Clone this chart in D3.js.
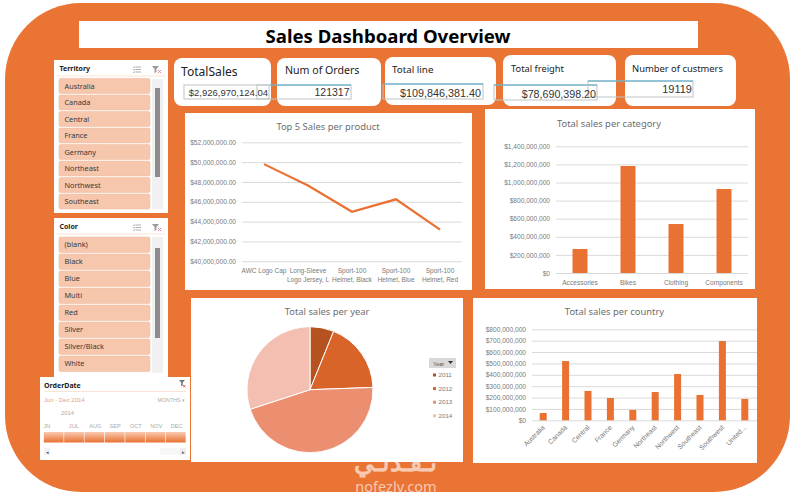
<!DOCTYPE html>
<html><head><meta charset="utf-8">
<script src="https://cdn.jsdelivr.net/npm/d3@7/dist/d3.min.js"></script>
<style>
html,body{margin:0;padding:0;background:#fff}
svg{display:block}
text{font-family:"Liberation Sans",Arial,sans-serif}
.t{font-family:"Noto Sans",sans-serif}
.domain{display:none}
</style></head><body>
<svg id="c" width="792" height="497"></svg>
<script>
const territories=["Australia","Canada","Central","France","Germany","Northeast","Northwest","Southeast"];
const colors=["(blank)","Black","Blue","Multi","Red","Silver","Silver/Black","White"];
const months=["JUN","JUL","AUG","SEP","OCT","NOV","DEC"];
const productLabels=[["AWC Logo Cap"],["Long-Sleeve","Logo Jersey, L"],["Sport-100","Helmet, Black"],["Sport-100","Helmet, Blue"],["Sport-100","Helmet, Red"]];
const productSales=[49800000,47650000,45000000,46250000,43200000];
const categoryNames=["Accessories","Bikes","Clothing","Components"];
const categorySales=[265000000,1182000000,541000000,928000000];
const years=["2011","2012","2013","2014"];
const yearSales=[179000000,536000000,1333000000,879000000];
const countryNames=["Australia","Canada","Central","France","Germany","Northeast","Northwest","Southeast","Southwest","United..."];
const countrySales=[64000000,521000000,258000000,196000000,91000000,249000000,407000000,223000000,697000000,188000000];
const kpiTitles=["TotalSales","Num of Orders","Total line","Total freight","Number of custmers"];
const kpiValues=["$2,926,970,124.04","121317","$109,846,381.40","$78,690,398.20","19119"];

const ORANGE="#E97132",GRID="#d9d9d9",TXT="#7a7a7a";
const svg=d3.select("#c");
svg.append("rect").attr("x",5).attr("y",3).attr("width",785).attr("height",489).attr("rx",76).attr("ry",76).attr("fill","#EA7434");

function rect(g,x,y,w,h,f,extra={}){const r=g.append("rect").attr("x",x).attr("y",y).attr("width",w).attr("height",h).attr("fill",f);
  for(const k in extra)r.attr(k,extra[k]);return r;}
function text(g,x,y,s,size,fill,extra={}){const t=g.append("text").attr("x",x).attr("y",y).attr("font-size",size).attr("fill",fill).text(s);
  for(const k in extra)t.attr(k,extra[k]);return t;}

// title band
rect(svg,79,21,619,27,"#fff");
text(svg,388,43,"Sales Dashboard Overview",18.6,"#000",{"text-anchor":"middle","font-weight":700,"class":"t"});

// KPI cards
const cards=[[174,58,97,48],[277,58,104,48],[385,57,111,48],[503,55,113,51],[625,55,111,51]];
const titlePos=[[181,76,12.1],[285,74,10.6],[392,73,9.8],[511,72,9.3],[632,72,9.4]];
const boxes=[[184,85,85,14],[257,85,94,14],[383,84,100,15],[494,85,103,15],[588,81,105,16]];
const valuePos=[[268,96,9.5],[349.5,96,10.5],[481,97,10.8],[596,98,10.7],[692,93,11]];
cards.forEach((c,i)=>rect(svg,c[0],c[1],c[2],c[3],"#fff",{rx:8}));
kpiTitles.forEach((s,i)=>text(svg,titlePos[i][0],titlePos[i][1],s,titlePos[i][2],"#222",{"class":"t"}));
boxes.forEach((b,i)=>{
  rect(svg,b[0],b[1],b[2],b[3],"none",{stroke:"#bfc4c4","stroke-width":1});
  if(i>0)svg.append("line").attr("x1",i==1?270:b[0]).attr("x2",b[0]+b[2]).attr("y1",b[1]).attr("y2",b[1]).attr("stroke","#4aa8c8").attr("stroke-width",1);
});
kpiValues.forEach((s,i)=>text(svg,valuePos[i][0],valuePos[i][1],s,valuePos[i][2],"#333",{"text-anchor":"end"}));

// slicers
function filterIcons(g,x,y){
  const ic=g.append("g").attr("stroke","#9a9a9a").attr("stroke-width",.8).attr("fill","none");
  [0,2.5,5].forEach(d=>ic.append("line").attr("x1",x+2.5).attr("x2",x+8).attr("y1",y+d).attr("y2",y+d));
  [0,2.5,5].forEach(d=>ic.append("path").attr("d",`M${x} ${y+d}l.8 .8l1 -1.4`));
  g.append("path").attr("d",`M${x+19} ${y-1}h7l-2.6 3v3l-1.8 1v-4z`).attr("fill","#9a9a9a");
  g.append("path").attr("d",`M${x+25} ${y+3}l3 3m0 -3l-3 3`).attr("stroke","#d88","stroke-width",.7);
}
function slicer(x,y,w,h,title,items,itemTop,itemH,pitch,thumbTop,thumbBot){
  const g=svg.append("g");
  rect(g,x,y,w,h,"#fff");
  text(g,x+5.5,y+11,title,7,"#222",{"font-weight":700,"class":"t"});
  filterIcons(g,x+79,y+7);
  rect(g,x+3,y+15.5,w-6,1,"#fbe3d6");
  items.forEach((s,i)=>{
    const yy=itemTop+i*pitch;
    rect(g,x+5,yy,91,itemH,"#F6C6AD",{rx:1.5,stroke:"#eeb89c","stroke-width":.5});
    text(g,x+10.5,yy+itemH/2+2.6,s,7.3,"#3a3a3a",{"class":"t"});
  });
  rect(g,x+98,y+19,11,h-23,"#f1f1f1");
  rect(g,x+101,thumbTop,5,thumbBot-thumbTop,"#8c8c8c");
}
slicer(54,60,114,153,"Territory",territories,78.5,15,16.5,88,177);
slicer(54,218,114,159,"Color",colors,237,15.5,17,248,338);

// timeline
const tl=svg.append("g");
rect(tl,40,377,150,83,"#fff");
text(tl,44,387.5,"OrderDate",7,"#222",{"font-weight":700,"class":"t"});
tl.append("path").attr("d","M179 380h6l-2.2 2.6v3l-1.6 .9v-3.9z").attr("fill","#777");
tl.append("path").attr("d","M183 385l2.5 2.5m0 -2.5l-2.5 2.5").attr("stroke","#d44").attr("stroke-width",.8);
rect(tl,44,391,142,1,"#fbe3d6");
text(tl,44,402,"Jun - Dec 2014",6,"#e8a07a");
text(tl,185,402,"MONTHS ▾",5.3,"#aaa",{"text-anchor":"end"});
text(tl,61,415,"2014",5.8,"#aaa");
const mx=d3.scaleBand().domain(months).range([43.5,186]);
const grad=svg.append("defs").append("linearGradient").attr("id","tg").attr("x1",0).attr("x2",0).attr("y1",0).attr("y2",1);
grad.append("stop").attr("offset",0).attr("stop-color","#f9c9b0");
grad.append("stop").attr("offset",1).attr("stop-color","#E97132");
months.forEach((m,i)=>{
  rect(tl,mx(m)+.3,432,mx.bandwidth()-.6,10.5,"url(#tg)");
  text(tl,mx(m)+(i==0?0:5),428,i==0?"JN":m,5.6,"#aaa");
});
rect(tl,44,448,6,7,"#f0f0f0"); text(tl,45.5,453.5,"◂",5,"#555");
rect(tl,160,448,26,7,"#f7f7f7"); rect(tl,180,448,6,7,"#eee"); text(tl,181.5,453.5,"▸",5,"#555");

// chart panels
function panel(x,y,w,h,title,cx,ty){
  rect(svg,x,y,w,h,"#fff");
  text(svg,cx,ty,title,9.4,"#6e6e6e",{"text-anchor":"middle","class":"t"});
}
function yAxis(scale,vals,fmt,x0,x1,size){
  const ax=svg.append("g").attr("transform",`translate(${x0},0)`)
    .call(d3.axisLeft(scale).tickValues(vals).tickFormat(fmt).tickSize(-(x1-x0)).tickPadding(6));
  ax.selectAll("line").attr("stroke",GRID);
  ax.selectAll("text").attr("fill",TXT).attr("font-size",size);
}
const fmt2=d=>"$"+d3.format(",.2f")(d), fmt0=d=>"$"+d3.format(",")(d);

// line chart
panel(185,113,287,177,"Top 5 Sales per product",328,130);
const lx=d3.scaleBand().domain(d3.range(5)).range([242,462]);
const ly=d3.scaleLinear().domain([40000000,52000000]).range([261.3,142.3]);
yAxis(ly,d3.range(40000000,52000001,2000000),fmt2,242,462,6.6);
svg.append("path").datum(productSales).attr("fill","none").attr("stroke",ORANGE).attr("stroke-width",2.2)
  .attr("d",d3.line().x((d,i)=>lx(i)+lx.bandwidth()/2).y(d=>ly(d)));
productLabels.forEach((ls,i)=>ls.forEach((s,j)=>text(svg,lx(i)+lx.bandwidth()/2,272.5+j*9,s,6.5,TXT,{"text-anchor":"middle"})));

// category bars
panel(485,109,270,180,"Total sales per category",609,127);
const cx=d3.scaleBand().domain(categoryNames).range([556,748]);
const cy=d3.scaleLinear().domain([0,1400000000]).range([273,146.3]);
yAxis(cy,d3.range(0,1400000001,200000000),fmt0,556,748,6.6);
svg.selectAll(".cb").data(categorySales).join("rect").attr("class","cb")
  .attr("x",(d,i)=>cx(categoryNames[i])+cx.bandwidth()/2-7.5).attr("width",15)
  .attr("y",d=>cy(d)).attr("height",d=>cy(0)-cy(d)).attr("fill",ORANGE);
categoryNames.forEach(s=>text(svg,cx(s)+cx.bandwidth()/2,285,s,6.6,TXT,{"text-anchor":"middle"}));

// pie
panel(191,298,272,164,"Total sales per year",327,315);
const pieCols=["#B5521F","#D9642A","#EC8F70","#F2BFB1"];
const arcs=d3.pie().sort(null)(yearSales);
const pg=svg.append("g").attr("transform","translate(310,389.7)");
pg.selectAll("path").data(arcs).join("path").attr("d",d3.arc().innerRadius(0).outerRadius(63))
  .attr("fill",(d,i)=>pieCols[i]).attr("stroke","#fff").attr("stroke-width",1);
rect(svg,429,358,27,10,"#d9d9d9");
text(svg,433,365.5,"Year",5.5,"#555");
svg.append("path").attr("d","M448 361h5l-2.5 3z").attr("fill","#333");
years.forEach((s,i)=>{
  const y=375+i*13.6;
  rect(svg,433,y-1.5,3,3,pieCols[i]);
  text(svg,438.5,y+2.2,s,6.2,TXT);
});

// country bars
panel(473,298,284,165,"Total sales per country",614.5,315);
const kx=d3.scaleBand().domain(countryNames).range([532,756]);
const ky=d3.scaleLinear().domain([0,800000000]).range([420.3,329.3]);
yAxis(ky,d3.range(0,800000001,100000000),fmt0,532,757,6.6);
svg.selectAll(".kb").data(countrySales).join("rect").attr("class","kb")
  .attr("x",(d,i)=>kx(countryNames[i])+kx.bandwidth()/2-3.5).attr("width",7)
  .attr("y",d=>ky(d)).attr("height",d=>ky(0)-ky(d)).attr("fill",ORANGE);
countryNames.forEach(s=>{
  const x=kx(s)+kx.bandwidth()/2+2, y=428;
  text(svg,x,y,s,6.8,TXT,{"text-anchor":"end",transform:`rotate(-45 ${x} ${y})`});
});

// watermark
const wm=svg.append("g");
text(wm,395,471,"نـفـذلـي",25,"#fff",{"font-weight":700,opacity:.62,"font-family":"DejaVu Sans","text-anchor":"middle"});
text(wm,396,492,"nofezly.com",14.5,"#fff",{opacity:.6,"class":"t","text-anchor":"middle"});
</script>
</body></html>
